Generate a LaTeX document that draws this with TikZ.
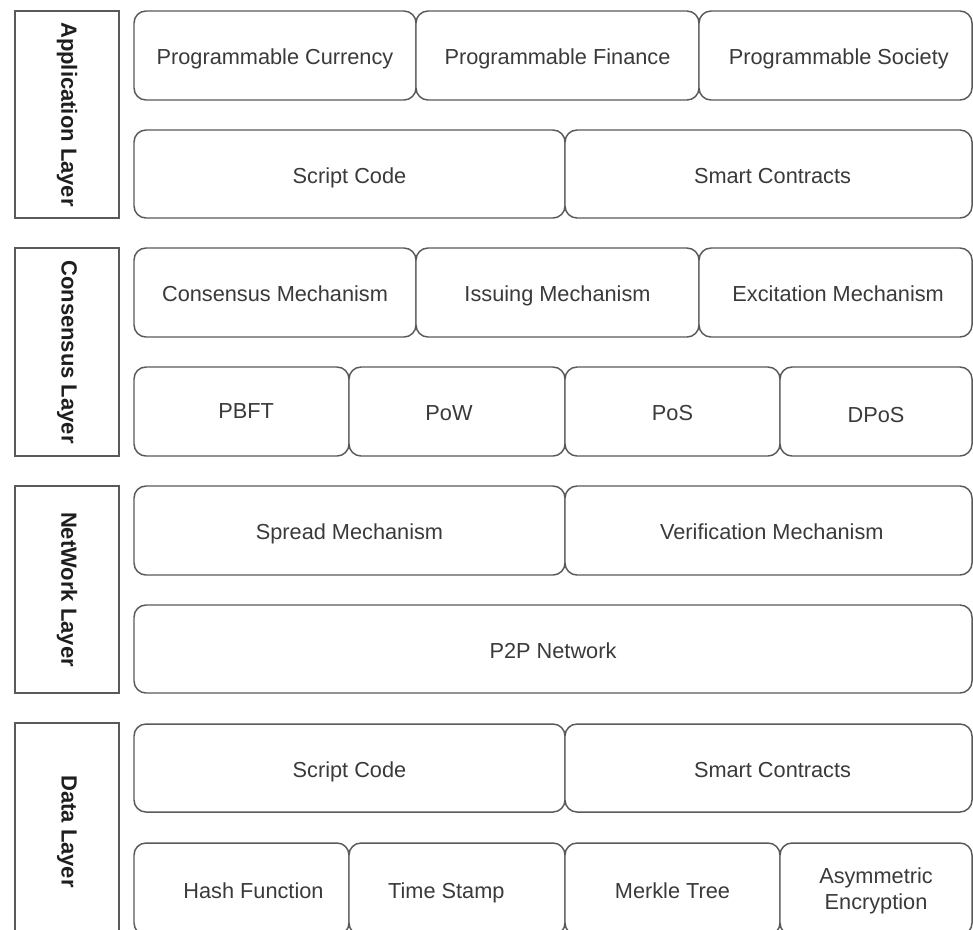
\documentclass[tikz,border=0pt]{standalone}
\usepackage{fontspec}
\setmainfont{Liberation Sans}
\definecolor{edge}{HTML}{5A5A5A}
\definecolor{txt}{HTML}{3A3A3A}
\definecolor{lbl}{HTML}{1E1E1E}
\tikzset{
  rbox/.style={draw=edge, line width=1.1pt, rounded corners=9pt, fill=white, inner sep=0pt,
    font=\fontsize{16.3pt}{19.5pt}\selectfont, text=txt, align=center},
  oneline/.style={text height=11.8pt, text depth=3.4pt},
  layerbox/.style={draw=edge, line width=1.4pt, fill=white, inner sep=0pt,
    font=\bfseries\fontsize{16.5pt}{19.5pt}\selectfont, text=lbl, rotate=-90},
}
\newcommand{\rbx}[7][oneline]{\path (#3,#4) rectangle (#5,#6);
  \node[rbox, minimum width={0.75pt*(#5-#3)}, minimum height={0.75pt*(#6-#4)}] (#2) at ({(#3+#5)/2},{(#4+#6)/2}) {};
  \node[yshift=-2.6pt, #1, font=\fontsize{16.3pt}{19.5pt}\selectfont, text=txt, align=center, inner sep=0pt] (#2-t) at (#2.center) {#7};}
\newcommand{\lbx}[6]{\node[layerbox, minimum width={0.75pt*(#5-#3)}, minimum height={0.75pt*(#4-#2)}] (#1) at ({(#2+#4)/2},{(#3+#5)/2}) {#6};}
\begin{document}
\begin{tikzpicture}[x=0.75pt, y=-0.75pt]
\clip (0,0) rectangle (973,929);
\fill[white] (0,0) rectangle (973,929);
% layer labels
\lbx{app}{15}{11}{119}{218}{Application Layer}
\lbx{cons}{15}{248}{119}{456}{Consensus Layer}
\lbx{net}{15}{486}{119}{693}{NetWork Layer}
\lbx{data}{15}{723}{119}{940}{Data Layer}
% application layer
\rbx{pc}{134}{11}{416}{100}{Programmable Currency}
\rbx{pf}{416}{11}{699}{100}{Programmable Finance}
\rbx[oneline,xshift=2.5pt]{ps}{699}{11}{972}{100}{Programmable Society}
\rbx{sc1}{134}{130}{565}{218}{Script Code}
\rbx[oneline,xshift=3pt]{sm1}{565}{130}{972}{218}{Smart Contracts}
% consensus layer
\rbx{cm}{134}{248}{416}{337}{Consensus Mechanism}
\rbx{im}{416}{248}{699}{337}{Issuing Mechanism}
\rbx[oneline,xshift=2pt]{em}{699}{248}{972}{337}{Excitation Mechanism}
\rbx[oneline,xshift=3.5pt,yshift=1.5pt]{pbft}{134}{367}{349}{456}{PBFT}
\rbx[oneline,xshift=-6pt]{pow}{349}{367}{565}{456}{PoW}
\rbx{pos}{565}{367}{780}{456}{PoS}
\rbx[oneline,yshift=-1.5pt]{dpos}{780}{367}{972}{456}{DPoS}
% network layer
\rbx{sp}{134}{486}{565}{575}{Spread Mechanism}
\rbx[oneline,xshift=2.5pt]{vm}{565}{486}{972}{575}{Verification Mechanism}
\rbx{p2p}{134}{605}{972}{693}{P2P Network}
% data layer
\rbx{sc2}{134}{724}{565}{812}{Script Code}
\rbx[oneline,xshift=3pt]{sm2}{565}{724}{972}{812}{Smart Contracts}
\rbx[oneline,xshift=9pt]{hf}{134}{843}{349}{935}{Hash Function}
\rbx[oneline,xshift=-8pt]{ts}{349}{843}{565}{935}{Time Stamp}
\rbx{mt}{565}{843}{780}{935}{Merkle Tree}
\rbx[yshift=1pt]{ae}{780}{843}{972}{935}{Asymmetric\\Encryption}
\end{tikzpicture}
\end{document}
